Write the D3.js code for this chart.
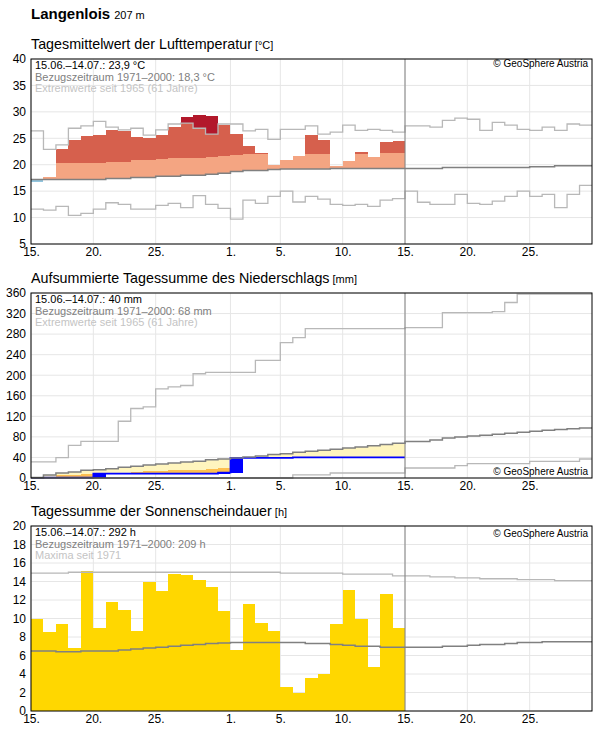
<!DOCTYPE html>
<html>
<head>
<meta charset="utf-8">
<script src="https://cdn.jsdelivr.net/npm/d3@7"></script>
<style>
  body { margin: 0; background: #fff; }
  svg { font-family: "Liberation Sans", Arial, sans-serif; }
</style>
</head>
<body>
<script>
// Tageswerte ab 15.06. (30 beobachtete Tage, Klimawerte bis 29.07.)
var xTicks = [0, 5, 10, 16, 20, 25, 30, 35, 40];

// Temperatur [°C]
var tempObs = [16.8, 17.6, 22.9, 24.7, 25.4, 25.6, 26.6, 26.4, 25.3, 25.1, 25.6, 27.2, 29.1, 29.4, 29.2,
  27.5, 25.8, 23.6, 22.2, 20.0, 20.9, 21.7, 25.6, 24.7, 19.8, 20.7, 22.4, 21.5, 24.3, 24.5];
var tempBand = [20.3, 20.3, 20.4, 20.4, 20.4, 20.4, 20.6, 20.6, 20.8, 20.8, 21.0, 21.2, 21.2, 21.35, 21.5,
  21.7, 21.9, 22.0, 22.0, 22.1, 22.1, 22.1, 22.0, 22.0, 22.0, 22.0, 22.0, 22.0, 22.2, 22.2];
var tempMean = [17.2, 17.2, 17.2, 17.2, 17.2, 17.2, 17.4, 17.4, 17.6, 17.6, 17.8, 17.8, 18.0, 18.0, 18.2,
  18.4, 18.7, 18.9, 18.9, 19.1, 19.2, 19.2, 19.2, 19.2, 19.3, 19.3, 19.3, 19.3, 19.3, 19.3,
  19.3, 19.3, 19.3, 19.45, 19.45, 19.45, 19.45, 19.45, 19.45, 19.45, 19.6, 19.6, 19.8, 19.8, 19.8];
var tempMax = [26.4, 22.9, 23.75, 26.9, 27.35, 28.2, 27.1, 26.6, 26.9, 25.6, 26.6, 27.7, 27.85, 26.9, 25.8,
  27.7, 27.7, 26.4, 26.7, 24.8, 26.7, 26.7, 27.35, 25.8, 26.15, 27.5, 26.5, 26.7, 26.5, 26.15,
  27.35, 27.35, 27.1, 28.4, 28.8, 28.6, 26.5, 28.0, 27.5, 26.7, 26.5, 27.1, 26.5, 27.7, 27.5];
var tempMin = [11.6, 11.4, 12.1, 10.4, 10.8, 11.6, 12.8, 12.5, 11.6, 11.6, 12.3, 12.7, 11.9, 14.15, 12.5,
  11.75, 9.7, 13.3, 12.7, 14.0, 15.0, 12.95, 14.0, 13.5, 12.5, 12.3, 12.5, 12.1, 13.3, 13.6,
  15.0, 12.9, 12.5, 12.5, 14.4, 12.7, 12.5, 13.1, 14.0, 15.0, 14.0, 14.4, 11.9, 14.4, 16.1];

// Niederschlag [mm]
var niedTag = [0, 0.8, 0, 0, 0, 7.7, 0, 0, 0, 0, 0, 0, 0, 0, 0,
  2.0, 28.5, 0, 0, 0, 0, 1.0, 0, 0, 0, 0, 0, 0, 0, 0];
var niedMean = [1.2, 5.8, 9.7, 11.6, 14.9, 16.2, 18.1, 20.7, 22.7, 25.3, 27.3, 29.3, 31.2, 32.4, 35.7,
  37.0, 39.0, 41.0, 42.9, 45.5, 47.4, 50.0, 52.0, 53.9, 55.9, 58.5, 60.5, 63.0, 65.0, 67.6,
  71.0, 71.0, 74.0, 78.0, 80.0, 81.5, 83.0, 85.0, 87.0, 89.0, 91.0, 93.0, 94.5, 96.0, 97.5];
var niedHalb = [0.6, 2.9, 4.9, 5.8, 7.5, 8.1, 9.1, 10.4, 11.4, 12.7, 13.7, 14.7, 15.6, 16.2, 17.9,
  18.5, 19.5, 20.5, 21.5, 22.8, 23.7, 25.0, 26.0, 27.0, 28.0, 29.3, 30.3, 31.5, 32.5, 33.8];
var niedMax = [31.2, 31.2, 39.6, 63.6, 71.4, 71.4, 71.4, 110.4, 135.2, 138.5, 173.6, 177.5, 180, 202.9, 205.5,
  205.5, 205.5, 205.5, 228.9, 228.9, 263.3, 273.1, 290.7, 290.7, 290.7, 290.7, 290.7, 290.7, 290.7, 290.7,
  292.7, 292.7, 292.7, 322, 322, 322, 322, 323.9, 341.5, 357.7, 357.7, 357.7, 357.7, 357.7, 357.7];
var niedMin = [0, 0, 0, 0, 0, 0, 0, 0, 0, 0, 0, 0, 0, 0, 0,
  0, 0, 0, 0, 0, 0, 6, 6, 6, 9.7, 9.7, 9.7, 9.7, 9.7, 9.7,
  19.5, 19.5, 19.5, 19.5, 24, 27.9, 27.9, 27.9, 27.9, 27.9, 32.4, 32.4, 32.4, 32.4, 37];

// Sonnenscheindauer [h]
var sonneObs = [10.0, 8.5, 9.4, 6.8, 15.1, 9.0, 11.8, 10.9, 8.7, 13.9, 13.0, 14.8, 14.7, 14.2, 13.4,
  10.8, 6.6, 11.6, 9.5, 8.6, 2.6, 2.0, 3.6, 4.0, 9.4, 13.1, 9.9, 4.8, 12.6, 9.0];
var sonneMean = [6.5, 6.5, 6.4, 6.4, 6.5, 6.5, 6.5, 6.6, 6.7, 6.8, 6.9, 7.0, 7.1, 7.2, 7.3,
  7.35, 7.4, 7.4, 7.4, 7.4, 7.4, 7.4, 7.3, 7.3, 7.2, 7.1, 7.0, 7.0, 6.9, 6.9,
  6.9, 6.9, 6.9, 7.0, 7.0, 7.1, 7.2, 7.2, 7.3, 7.4, 7.4, 7.5, 7.5, 7.5, 7.5];
var sonneMax = [14.9, 14.9, 14.9, 15.0, 15.0, 15.0, 15.0, 15.0, 15.0, 15.0, 15.0, 15.0, 15.0, 15.0, 15.0,
  15.0, 15.0, 15.0, 15.0, 15.0, 14.9, 14.9, 14.9, 14.9, 14.9, 14.8, 14.8, 14.8, 14.8, 14.6,
  14.6, 14.6, 14.5, 14.5, 14.4, 14.4, 14.3, 14.3, 14.3, 14.2, 14.2, 14.2, 14.1, 14.1, 14.1];

// Set up the SVG
var svg = d3.select("body").append("svg")
    .attr("width", 596)
    .attr("height", 729);

var start = new Date(Date.UTC(2025, 5, 15));
function day(i) { return d3.utcDay.offset(start, i); }

var left = 31, right = 592, plotH = 185;
var x = d3.scaleUtc().domain([day(0), day(45)]).range([left, right]);

var colGrid = "#e6e6e6", colMean = "#808080", colExt = "#b8b8b8";

// step line points incl. end of last day
function steps(values) {
  var pts = values.map(function(v, i) { return [day(i), v]; });
  pts.push([day(values.length), values[values.length - 1]]);
  return pts;
}

function panel(top, yDomain, yTicks, title, unit, legend, copyY) {
  var y = d3.scaleLinear().domain(yDomain).range([top + plotH, top]);
  var g = svg.append("g");

  svg.append("text")
    .attr("x", left).attr("y", top - 10)
    .attr("font-size", 14.3).attr("fill", "#000")
    .text(title)
    .append("tspan").attr("dx", 3).attr("font-size", 11).text(unit);

  // grid
  g.selectAll(".hgrid").data(yTicks).enter().append("line")
    .attr("x1", left).attr("x2", right)
    .attr("y1", function(d) { return y(d); }).attr("y2", function(d) { return y(d); })
    .attr("stroke", colGrid);
  g.selectAll(".vgrid").data(xTicks).enter().append("line")
    .attr("x1", function(d) { return x(day(d)); }).attr("x2", function(d) { return x(day(d)); })
    .attr("y1", top).attr("y2", top + plotH)
    .attr("stroke", colGrid);

  var marks = svg.append("g");

  // axes
  var ya = svg.append("g").attr("transform", "translate(" + left + ",0)")
    .call(d3.axisLeft(y).tickValues(yTicks).tickSize(0).tickPadding(5));
  var xa = svg.append("g").attr("transform", "translate(0," + (top + plotH) + ")")
    .call(d3.axisBottom(x).tickValues(xTicks.map(day)).tickSize(0).tickPadding(3)
      .tickFormat(function(d) { return d.getUTCDate() + "."; }));
  [ya, xa].forEach(function(a) {
    a.select(".domain").remove();
    a.selectAll("text").attr("font-size", 12).attr("fill", "#000")
      .attr("font-family", "Liberation Sans, Arial, sans-serif");
  });

  var over = svg.append("g");
  // today line + frame
  over.append("line")
    .attr("x1", x(day(30))).attr("x2", x(day(30)))
    .attr("y1", top).attr("y2", top + plotH)
    .attr("stroke", colMean);
  over.append("rect")
    .attr("x", left).attr("y", top).attr("width", right - left).attr("height", plotH)
    .attr("fill", "none").attr("stroke", "#000");

  var legCols = ["#000", "#808080", "#c4c4c4"];
  over.selectAll(".leg").data(legend).enter().append("text")
    .attr("x", left + 4)
    .attr("y", function(d, i) { return top + 10 + i * 11.5; })
    .attr("font-size", 11)
    .attr("fill", function(d, i) { return legCols[i]; })
    .text(function(d) { return d; });

  over.append("text")
    .attr("x", right - 4).attr("y", copyY)
    .attr("text-anchor", "end").attr("font-size", 10).attr("fill", "#000")
    .text("© GeoSphere Austria");

  return { y: y, marks: marks };
}

function dayRects(sel, data, lo, hi, color) {
  sel.selectAll(null).data(data).enter().append("rect")
    .attr("x", function(d) { return x(day(d.i)); })
    .attr("width", function(d) { return x(day(d.i + 1)) - x(day(d.i)); })
    .attr("y", function(d) { return hi(d); })
    .attr("height", function(d) { return Math.max(0, lo(d) - hi(d)); })
    .attr("fill", color)
    .attr("shape-rendering", "crispEdges");
}

function stepPath(sel, y, values, color, w) {
  sel.append("path")
    .datum(steps(values))
    .attr("d", d3.line().curve(d3.curveStepAfter)
      .x(function(d) { return x(d[0]); }).y(function(d) { return y(d[1]); }))
    .attr("fill", "none").attr("stroke", color).attr("stroke-width", w);
}

// Titel
svg.append("text")
  .attr("x", left).attr("y", 19)
  .attr("font-size", 15).attr("font-weight", "bold")
  .text("Langenlois")
  .append("tspan").attr("dx", 4).attr("font-size", 11).attr("font-weight", "normal").text("207 m");

// 1) Temperatur
var p1 = panel(59, [5, 40], [5, 10, 15, 20, 25, 30, 35, 40],
  "Tagesmittelwert der Lufttemperatur", "[°C]",
  ["15.06.–14.07.: 23,9 °C", "Bezugszeitraum 1971–2000: 18,3 °C", "Extremwerte seit 1965 (61 Jahre)"], 67);
var y1 = p1.y;
var tDays = tempObs.map(function(v, i) {
  return { i: i, v: v, m: tempMean[i], b: tempBand[i], mx: tempMax[i] };
});
dayRects(p1.marks, tDays.filter(function(d) { return d.v < d.m; }),
  function(d) { return y1(d.v); }, function(d) { return y1(d.m); }, "#92c5de");
dayRects(p1.marks, tDays.filter(function(d) { return d.v > d.m; }),
  function(d) { return y1(d.m); }, function(d) { return y1(Math.min(d.v, d.b)); }, "#f4a582");
dayRects(p1.marks, tDays.filter(function(d) { return d.v > d.b; }),
  function(d) { return y1(d.b); }, function(d) { return y1(Math.min(d.v, d.mx)); }, "#d6604d");
dayRects(p1.marks, tDays.filter(function(d) { return d.v > d.mx; }),
  function(d) { return y1(d.mx); }, function(d) { return y1(d.v); }, "#b2182b");
stepPath(p1.marks, y1, tempMax, colExt, 1.3);
stepPath(p1.marks, y1, tempMin, colExt, 1.3);
stepPath(p1.marks, y1, tempMean, colMean, 1.5);

// 2) Niederschlag
var p2 = panel(293, [0, 360], d3.range(0, 361, 40),
  "Aufsummierte Tagessumme des Niederschlags", "[mm]",
  ["15.06.–14.07.: 40 mm", "Bezugszeitraum 1971–2000: 68 mm", "Extremwerte seit 1965 (61 Jahre)"], 475);
var y2 = p2.y;
var niedSum = d3.cumsum(niedTag);
var nDays = niedTag.map(function(v, i) {
  return { i: i, c: niedSum[i], p: i ? niedSum[i - 1] : 0, m: niedMean[i], h: niedHalb[i] };
});
dayRects(p2.marks, nDays.filter(function(d) { return d.m > d.c; }),
  function(d) { return y2(d.c); }, function(d) { return y2(d.m); }, "#fff5be");
dayRects(p2.marks, nDays.filter(function(d) { return d.h > d.c; }),
  function(d) { return y2(d.c); }, function(d) { return y2(d.h); }, "#fdbf50");
dayRects(p2.marks, nDays.filter(function(d) { return d.c > d.p; }),
  function(d) { return y2(d.p); }, function(d) { return y2(d.c); }, "#0000ff");
stepPath(p2.marks, y2, Array.from(niedSum), "#0000ff", 1.7);
stepPath(p2.marks, y2, niedMax, colExt, 1.3);
stepPath(p2.marks, y2, niedMin, colExt, 1.3);
stepPath(p2.marks, y2, niedMean, colMean, 1.5);

// 3) Sonnenschein
var p3 = panel(526, [0, 20], d3.range(0, 21, 2),
  "Tagessumme der Sonnenscheindauer", "[h]",
  ["15.06.–14.07.: 292 h", "Bezugszeitraum 1971–2000: 209 h", "Maxima seit 1971"], 537);
var y3 = p3.y;
dayRects(p3.marks, sonneObs.map(function(v, i) { return { i: i, v: v }; }),
  function(d) { return y3(0); }, function(d) { return y3(d.v); }, "#ffd700");
stepPath(p3.marks, y3, sonneMax, colExt, 1.3);
stepPath(p3.marks, y3, sonneMean, colMean, 1.5);
</script>
</body>
</html>
